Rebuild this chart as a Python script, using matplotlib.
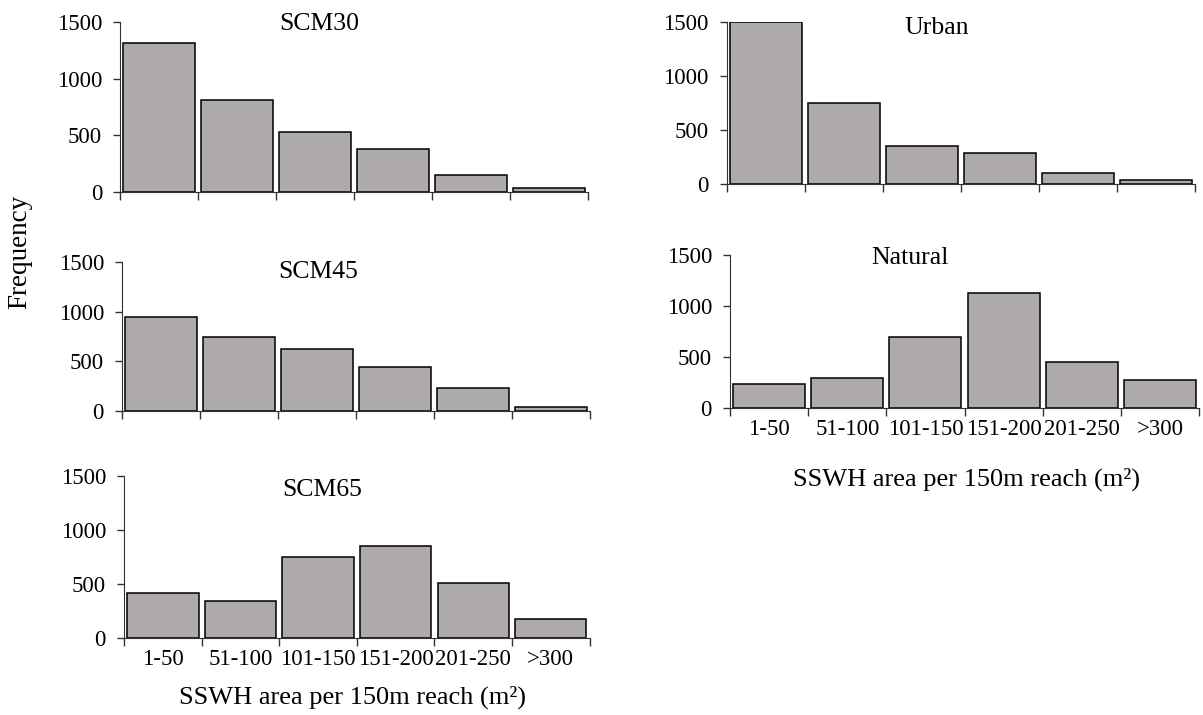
import matplotlib
matplotlib.use('Agg')
import matplotlib.pyplot as plt
import numpy as np

plt.rcParams['font.family'] = 'Liberation Serif'

# frequencies
bins = ['1-50', '51-100', '101-150', '151-200', '201-250', '>300']
scm30 = [1310, 810, 525, 383, 153, 39]
scm45 = [944, 748, 621, 438, 235, 39]
scm65 = [414, 346, 750, 855, 509, 173]
urban = [1500, 753, 347, 289, 105, 37]
natural = [238, 297, 691, 1132, 453, 271]

bar_color = '#AEAAAA'

fig = plt.figure(figsize=(12.03, 7.15), dpi=100)

# name, values, [left, bottom, width, height], title x/y (axes fraction), show labels
panels = [
    ('SCM30', scm30, [0.0998, 0.7315, 0.3890, 0.2378], 0.425, 0.99, False),
    ('SCM45', scm45, [0.1014, 0.4252, 0.3890, 0.2084], 0.42, 0.933, False),
    ('SCM65', scm65, [0.1031, 0.1077, 0.3870, 0.2266], 0.425, 0.914, True),
    ('Urban', urban, [0.6043, 0.7427, 0.3890, 0.2266], 0.449, 0.963, False),
    ('Natural', natural, [0.6068, 0.4294, 0.3900, 0.2140], 0.383, 0.98, True),
]

x = np.arange(len(bins))

for name, vals, rect, tx, ty, show in panels:
    ax = fig.add_axes(rect)
    ax.bar(x, vals, width=0.92, color=bar_color, edgecolor='black', linewidth=1.1)
    ax.set_xlim(-0.5, len(bins) - 0.5)
    ax.set_ylim(0, 1500)
    ax.set_yticks([0, 500, 1000, 1500])
    ax.spines['top'].set_visible(False)
    ax.spines['right'].set_visible(False)
    ax.spines['left'].set_color('#333333')
    ax.spines['bottom'].set_color('#333333')
    # ticks sit on the bin edges, labels in the middle of the bins
    ax.set_xticks(np.arange(len(bins) + 1) - 0.5)
    ax.set_xticklabels([])
    ax.set_xticks(x, minor=True)
    if show:
        ax.set_xticklabels(bins, minor=True)
    ax.tick_params(axis='x', which='major', direction='out', length=6, width=1, color='#333333')
    ax.tick_params(axis='x', which='minor', length=0, pad=8, labelsize=16.5)
    ax.tick_params(axis='y', direction='out', length=5, width=1, color='#333333', pad=8, labelsize=16.5)
    ax.text(tx, ty, name, transform=ax.transAxes, ha='center', va='center', fontsize=18.5)

fig.text(0.0166, 0.648, 'Frequency', rotation=90, ha='center', va='center', fontsize=19.5)
fig.text(0.293, 0.025, 'SSWH area per 150m reach (m\u00b2)', ha='center', va='center', fontsize=19)
fig.text(0.803, 0.329, 'SSWH area per 150m reach (m\u00b2)', ha='center', va='center', fontsize=19)

plt.savefig('out.png', dpi=100)
